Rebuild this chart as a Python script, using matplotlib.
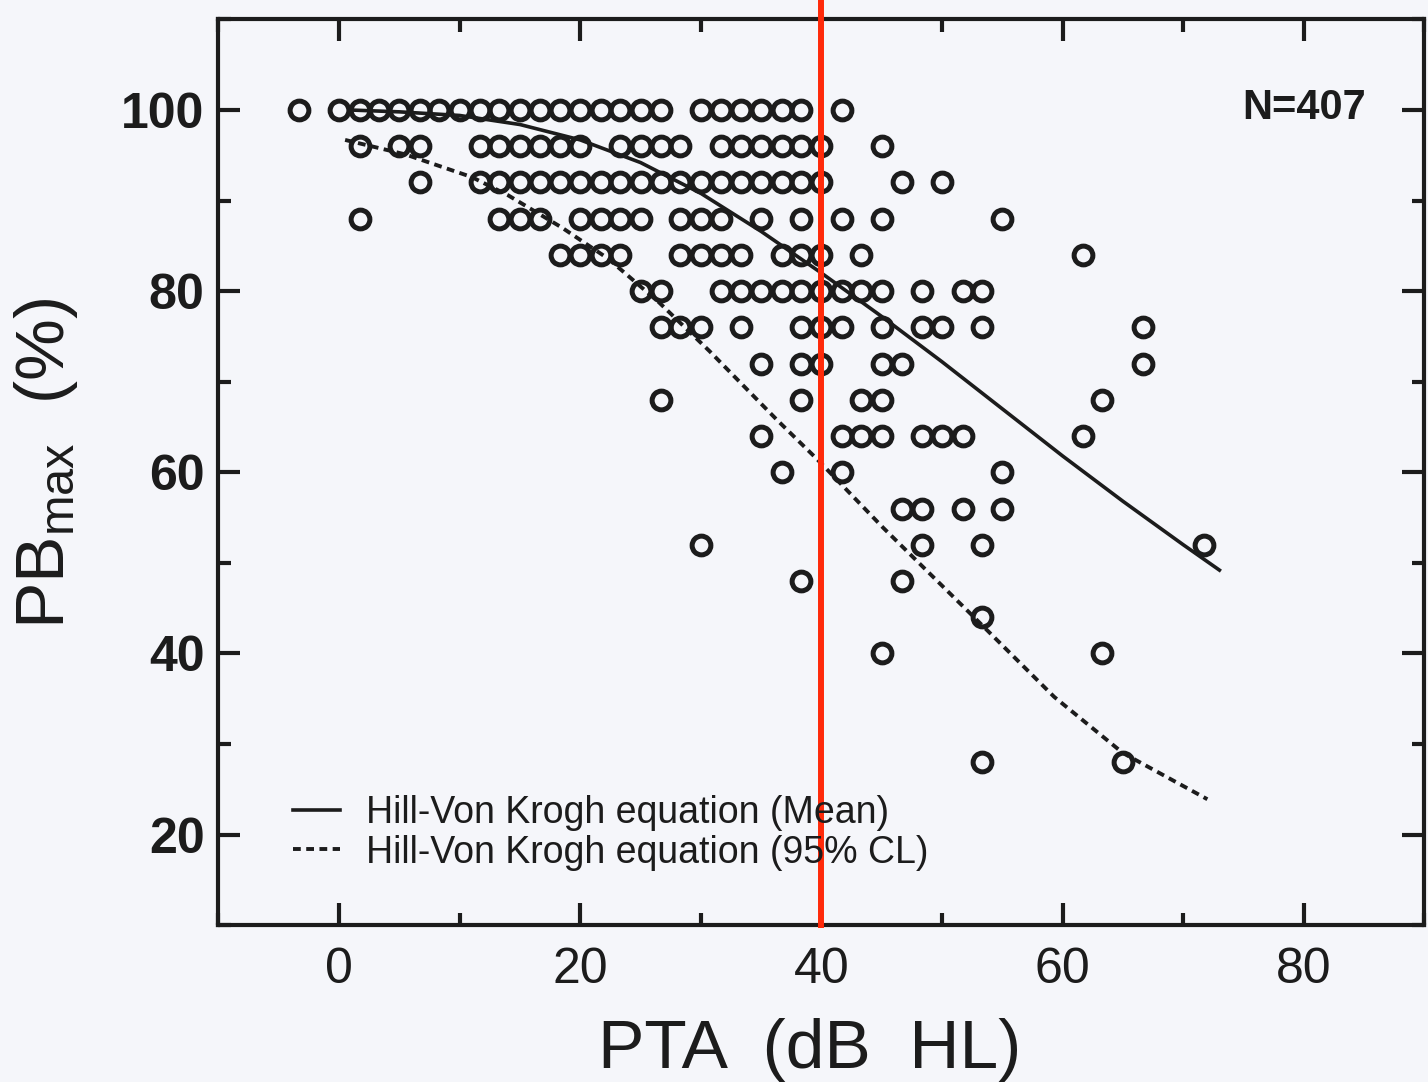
import numpy as np
import matplotlib.pyplot as plt
from matplotlib.ticker import MultipleLocator

# PTA (dB HL) of the subjects, one list per PBmax row (%)
pta_100 = [-3.3, 0, 1.7, 3.3, 5, 6.7, 8.3, 10, 11.7, 13.3, 15, 16.7, 18.3, 20, 21.7,
           23.3, 25, 26.7, 30, 31.7, 33.3, 35, 36.7, 38.3, 41.7]
pta_96 = [1.7, 5, 6.7, 11.7, 13.3, 15, 16.7, 18.3, 20, 23.3, 25, 26.7, 28.3, 31.7,
          33.3, 35, 36.7, 38.3, 40, 45]
pta_92 = [6.7, 11.7, 13.3, 15, 16.7, 18.3, 20, 21.7, 23.3, 25, 26.7, 28.3, 30, 31.7,
          33.3, 35, 36.7, 38.3, 40, 46.7, 50]
pta_88 = [1.7, 13.3, 15, 16.7, 20, 21.7, 23.3, 25, 28.3, 30, 31.7, 35, 38.3, 41.7, 45, 55]
pta_84 = [18.3, 20, 21.7, 23.3, 28.3, 30, 31.7, 33.3, 36.7, 38.3, 40, 43.3, 61.7]
pta_80 = [25, 26.7, 31.7, 33.3, 35, 36.7, 38.3, 40, 41.7, 43.3, 45, 48.3, 51.7, 53.3]
pta_76 = [26.7, 28.3, 30, 33.3, 38.3, 40, 41.7, 45, 48.3, 50, 53.3, 66.7]
pta_72 = [35, 38.3, 40, 45, 46.7, 66.7]
pta_68 = [26.7, 38.3, 43.3, 45, 63.3]
pta_64 = [35, 41.7, 43.3, 45, 48.3, 50, 51.7, 61.7]
pta_60 = [36.7, 41.7, 55]
pta_56 = [46.7, 48.3, 51.7, 55]
pta_52 = [30, 48.3, 53.3, 71.7]
pta_48 = [38.3, 46.7]
pta_44 = [53.3]
pta_40 = [45, 63.3]
pta_28 = [53.3, 65]

pb_rows = [100, 96, 92, 88, 84, 80, 76, 72, 68, 64, 60, 56, 52, 48, 44, 40, 28]
pta_rows = [pta_100, pta_96, pta_92, pta_88, pta_84, pta_80, pta_76, pta_72, pta_68,
            pta_64, pta_60, pta_56, pta_52, pta_48, pta_44, pta_40, pta_28]

# Hill-Von Krogh fits
mean_pta = [1, 5, 10, 15, 20, 25, 30, 35, 40, 45, 50, 55, 60, 65, 70, 73]
mean_pb = [100, 99.8, 99.4, 98.4, 96.7, 94.2, 90.8, 86.6, 82.0, 77.2, 72.2, 67.0,
           61.8, 56.8, 52.0, 49.2]
cl_pta = [0.5, 5.5, 11, 14, 18.5, 22.3, 26.5, 30.7, 36.3, 39.6, 45.1, 52.5, 59.3, 65, 72]
cl_pb = [96.7, 95.1, 92.6, 90.6, 87, 83.6, 78.8, 73.4, 65.8, 61.5, 53.9, 44.2, 35.2,
         29, 23.9]

n_subjects = 407
cutoff_pta = 40

ink = '#1c1c1c'
paper = '#f5f6fa'

plt.rcParams['font.family'] = ['Liberation Sans', 'DejaVu Sans']
plt.rcParams['mathtext.fontset'] = 'custom'
plt.rcParams['mathtext.rm'] = 'Liberation Sans'
plt.rcParams['mathtext.it'] = 'Liberation Sans'

fig = plt.figure(figsize=(14.28, 10.82), dpi=100, facecolor=paper)
ax = fig.add_axes([0.153, 0.145, 0.8445, 0.837], facecolor=paper)

x = np.concatenate(pta_rows)
y = np.concatenate([[pb] * len(p) for pb, p in zip(pb_rows, pta_rows)])
ax.plot(x, y, 'o', ms=13.5, mfc='none', mec=ink, mew=3.6, zorder=3)

ax.plot(mean_pta, mean_pb, '-', color=ink, lw=2.6, zorder=2,
        label='Hill-Von Krogh equation (Mean)')
ax.plot(cl_pta, cl_pb, color=ink, lw=2.8, ls=(0, (2.0, 1.4)), zorder=2,
        label='Hill-Von Krogh equation (95% CL)')

ax.axvline(cutoff_pta, ymin=0, ymax=1.04, color='#ff2a0a', lw=4.3, clip_on=False, zorder=5)

ax.set_xlim(-10, 90)
ax.set_ylim(10, 110)
ax.xaxis.set_minor_locator(MultipleLocator(10))
ax.yaxis.set_minor_locator(MultipleLocator(10))
ax.set_xticks([0, 20, 40, 60, 80])
ax.set_yticks([20, 40, 60, 80, 100])

for s in ax.spines.values():
    s.set_linewidth(3)
    s.set_color(ink)
ax.tick_params(which='both', direction='in', top=True, right=True, color=ink, width=3)
ax.tick_params(which='major', length=16)
ax.tick_params(which='minor', length=9)
ax.tick_params(axis='x', pad=16, labelsize=36, labelcolor=ink)
ax.tick_params(axis='y', pad=10, labelsize=36, labelcolor=ink)
for lab in ax.get_yticklabels():
    lab.set_fontweight('bold')

ax.set_xlabel('PTA  (dB  HL)', fontsize=50, color=ink)
ax.set_ylabel(r'PB$_{\mathrm{max}}$  (%)', fontsize=50, color=ink)
ax.xaxis.set_label_coords(0.49, -0.103)
ax.yaxis.set_label_coords(-0.115, 0.51)

ax.text(80, 100.2, 'N=%d' % n_subjects, fontsize=30, fontweight='bold', color=ink,
        ha='center', va='center')

ax.legend(loc='center left', bbox_to_anchor=(0.062, 0.102), frameon=False,
          fontsize=27, handlelength=1.25, handletextpad=0.7, labelspacing=0.1,
          borderpad=0, borderaxespad=0, labelcolor=ink)

fig.savefig('out.png', dpi=100, facecolor=paper)
